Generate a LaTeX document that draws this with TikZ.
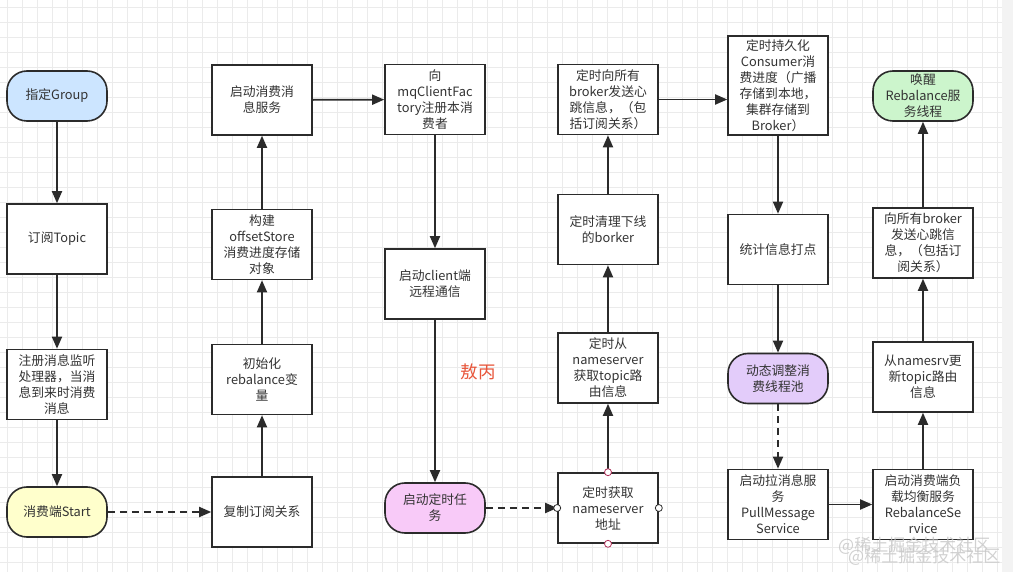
\documentclass[tikz,border=0pt]{standalone}
\usepackage{fontspec}
\setmainfont{Noto Sans CJK SC}
\usepackage{xcolor}
\usetikzlibrary{arrows.meta}

\definecolor{inkgray}{HTML}{2B2B2B}
\definecolor{textgray}{HTML}{333333}
\definecolor{gridgray}{HTML}{EBEBEB}
\definecolor{stripgray}{HTML}{F3F3F3}
\definecolor{startblue}{HTML}{CCE5FF}
\definecolor{startyellow}{HTML}{FFFFCC}
\definecolor{timerpink}{HTML}{F8CAF8}
\definecolor{poolpurple}{HTML}{E3CCFA}
\definecolor{wakegreen}{HTML}{CCF5CC}
\definecolor{portred}{HTML}{B0305A}
\definecolor{namered}{HTML}{E8553A}

\begin{document}
\begin{tikzpicture}[x=1pt, y=-1pt,
  font=\fontsize{12.8}{16}\selectfont, >={Triangle[length=12pt,width=10pt]},
  box/.style={draw=inkgray, line width=1.6pt, fill=white, text=textgray, align=center,
    minimum width=100pt, minimum height=70pt, inner sep=1pt},
  term/.style={box, minimum height=50pt, rounded corners=20pt},
  flow/.style={->, draw=inkgray, line width=1.8pt},
  weak/.style={flow, dash pattern=on 7pt off 5pt},
  port/.style={circle, draw=inkgray, fill=white, line width=0.8pt, inner sep=0pt, minimum size=7pt}]
  \useasboundingbox (0,0) rectangle (1013,572);
  % background grid
  \fill[white] (0,0) rectangle (1013,572);
  \foreach \gx in {7.5,22.5,...,1000} \draw[gridgray, line width=0.7pt] (\gx,0) -- (\gx,572);
  \foreach \gy in {7.5,22.5,...,572} \draw[gridgray, line width=0.7pt] (0,\gy) -- (1002,\gy);
  \fill[stripgray] (1002,0) rectangle (1013,572);

  % column 1
  \node[term, fill=startblue] (group) at (57,96) {指定Group};
  \node[box] (topic) at (57,239) {订阅Topic};
  \node[box] (listener) at (57,384.5) {注册消息监听\\处理器，当消\\息到来时消费\\消息};
  \node[term, fill=startyellow] (start) at (57,512) {消费端Start};
  % column 2
  \node[box] (copy) at (262,512) {复制订阅关系};
  \node[box] (rebal) at (262,379.5) {初始化\\rebalance变\\量};
  \node[box] (offset) at (262,244.5) {构建\\offsetStore\\消费进度存储\\对象};
  \node[box] (service) at (262,100) {启动消费消\\息服务};
  % column 3
  \node[box] (register) at (435,99.5) {向\\mqClientFac\\tory注册本消\\费者};
  \node[box] (remote) at (435,284) {启动client端\\远程通信};
  \node[term, fill=timerpink] (timer) at (435,508) {启动定时任\\务};
  \node[text=namered, font=\fontsize{17.5}{18}\selectfont] (author) at (478,372) {敖丙};
  % column 4
  \node[box] (fetchaddr) at (608,508) {定时获取\\nameserver\\地址};
  \node[box] (route) at (608,368) {定时从\\nameserver\\获取topic路\\由信息};
  \node[box] (clean) at (608,229.5) {定时清理下线\\的borker};
  \node[box] (heart) at (608,99.5) {定时向所有\\broker发送心\\跳信息，（包\\括订阅关系）};
  % column 5
  \node[box, minimum height=99pt] (persist) at (778,85.5) {定时持久化\\Consumer消\\费进度（广播\\存储到本地，\\集群存储到\\Broker）};
  \node[box] (stats) at (778,249.5) {统计信息打点};
  \node[term, fill=poolpurple] (pool) at (778,378.5) {动态调整消\\费线程池};
  \node[box] (pull) at (778,504.5) {启动拉消息服\\务\\PullMessage\\Service};
  % column 6
  \node[box] (balance) at (923,504.5) {启动消费端负\\载均衡服务\\RebalanceSe\\rvice};
  \node[box] (update) at (923,377) {从namesrv更\\新topic路由\\信息};
  \node[box] (beat) at (923,243) {向所有broker\\发送心跳信\\息，（包括订\\阅关系）};
  \node[term, fill=wakegreen, inner sep=0pt] (wake) at (923,96) {唤醒\\Rebalance服\\务线程};

  \draw[flow] (group) -- (topic);
  \draw[flow] (topic) -- (listener);
  \draw[flow] (listener) -- (start);
  \draw[weak] (start) -- (copy);
  \draw[flow] (copy) -- (rebal);
  \draw[flow] (rebal) -- (offset);
  \draw[flow] (offset) -- (service);
  \draw[flow] (service) -- (register);
  \draw[flow] (register) -- (remote);
  \draw[flow] (remote) -- (timer);
  \draw[weak] (timer) -- (fetchaddr);
  \draw[flow] (fetchaddr) -- (route);
  \draw[flow] (route) -- (clean);
  \draw[flow] (clean) -- (heart);
  \draw[flow] (heart.east) -- (heart.east -| persist.west);
  \draw[flow] (persist) -- (stats);
  \draw[flow] (stats) -- (pool);
  \draw[weak] (pool) -- (pull);
  \draw[flow] (pull) -- (balance);
  \draw[flow] (balance) -- (update);
  \draw[flow] (update) -- (beat);
  \draw[flow] (beat) -- (wake);

  % connection points
  \node[port, draw=portred] (fa-n) at (fetchaddr.north) {};
  \node[port, draw=portred] (fa-s) at (fetchaddr.south) {};
  \node[port] (fa-w) at (fetchaddr.west) {};
  \node[port] (fa-e) at (fetchaddr.east) {};

  % watermark, doubled as in the source image
  \node[text=gray!45, opacity=0.8, font=\fontsize{17}{18}\selectfont, anchor=north west, inner sep=0pt]
    (mark) at (838,537) {\rlap{\raisebox{-11pt}{\hspace{10pt}@稀土掘金技术社区}}@稀土掘金技术社区};
\end{tikzpicture}
\end{document}
